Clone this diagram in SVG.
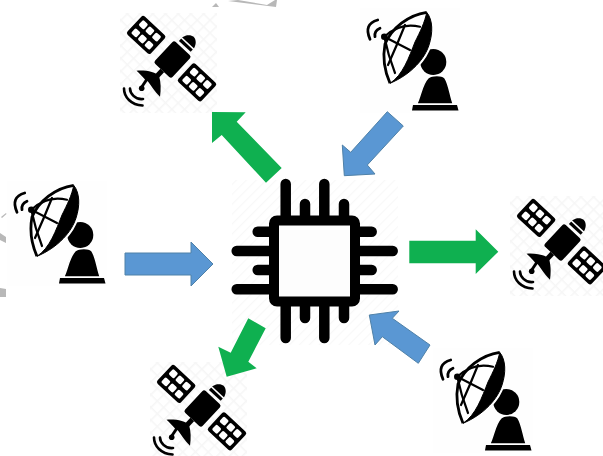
<svg xmlns="http://www.w3.org/2000/svg" width="603" height="456" viewBox="0 0 603 456">
<style>
.blue{fill:#5a97d3;stroke:#4f81a8;stroke-width:1}
.green{fill:#0fb050}
.wm{fill:#b8b8b8}
.pin{stroke:#000;stroke-width:10.500;stroke-linecap:round;fill:none}
.wave{fill:none;stroke:#000;stroke-linecap:round}
.rib{fill:none;stroke:#000;stroke-width:2.200;stroke-linecap:round}
</style>
<defs>
<pattern id="grid" width="9" height="9" patternUnits="userSpaceOnUse" patternTransform="rotate(45)">
<path d="M0 0H9M0 0V9" stroke="#f6f6f6" stroke-width="3" fill="none"/>
</pattern>
<pattern id="hatch" width="7" height="7" patternUnits="userSpaceOnUse" patternTransform="rotate(-45)">
<path d="M0 0H7" stroke="#f8f8f8" stroke-width="2.500" fill="none"/>
</pattern>
<g id="panel">
<rect x="-12.500" y="-16" width="25" height="32" rx="2.500" fill="#000"/>
<g fill="#fff">
<rect x="-9" y="-12.500" width="7" height="7" rx="1.500"/><rect x="2" y="-12.500" width="7" height="7" rx="1.500"/>
<rect x="-9" y="-3.500" width="7" height="7" rx="1.500"/><rect x="2" y="-3.500" width="7" height="7" rx="1.500"/>
<rect x="-9" y="5.500" width="7" height="7" rx="1.500"/><rect x="2" y="5.500" width="7" height="7" rx="1.500"/>
</g>
</g>
<g id="sat">
<rect x="120" y="13" width="97" height="100" fill="url(#grid)"/>
<g transform="translate(172.500 59.500) rotate(-47)">
<rect x="-15" y="-12" width="30" height="24" rx="2.500" fill="#000"/>
<path d="M18-8H23C28-7 31-3 31 0S28 7 23 8H18Z" fill="#000"/>
<path d="M22-9V9" stroke="#fff" stroke-width="1.600"/>
<use href="#panel" y="-36"/>
<use href="#panel" y="33.500"/>
<path d="M-15 0H-26" stroke="#000" stroke-width="5"/>
</g>
<path d="M136.500 70.700C146 70 156 72 159 76C161 82 161 90 160 96.700C155 92 150 84 147.500 81L142 89 140 87 145 79.500C142 76 139 73 136.500 70.700Z" fill="#000"/>
<circle cx="141.700" cy="88.300" r="2.800" fill="#000"/>
<path class="wave" stroke-width="2.600" d="M124 88.500C124 97 131 105 142.500 105.500"/>
<path class="wave" stroke-width="2.600" d="M130 88.500C130 93 135 100 143 99"/>
</g>
<g id="dish">
<rect x="360" y="8" width="100" height="105" fill="#fefefe"/>
<circle cx="433.300" cy="62" r="13" fill="#000"/>
<path d="M416.700 104C421 95 422 84 428 78C432 74.500 442 74.500 445 78C449 84 450 95 453.300 104Z" fill="#000" stroke="#fff" stroke-width="1.500"/>
<path d="M413 105H457L458.500 110.500H412Z" fill="#000"/>
<path d="M426.700 12.300C433 20 433 33 429 45C425 58 412 74 390 83.300C385 72 382 60 385 44C392 28 408 15 426.700 12.300Z" fill="#fff" stroke="#fff" stroke-width="5"/>
<path d="M426.700 12.300C408 15 392 28 385 44C382 60 385 72 390 83.300" fill="none" stroke="#000" stroke-width="2.800"/>
<path d="M426.700 12.300C433 20 433 33 429 45C425 58 412 74 390 83.300C403 75 409 57 415 42C420 32 425 22 426.700 12.300Z" fill="#000" stroke="#000" stroke-width="1"/>
<path class="rib" d="M384.300 36.700Q400 22 420 26.700"/>
<path class="rib" d="M384.300 36.700Q388 55 395 73"/>
<path class="rib" d="M384.300 36.700L410 50"/>
<path class="rib" d="M405 25Q397 45 388 65"/>
<circle cx="384.300" cy="36.700" r="3.300" fill="#000"/>
<path class="wave" stroke-width="2.800" d="M380 28.300Q374 31 375 36.700"/>
<path class="wave" stroke-width="2.800" d="M377.700 20Q363.300 24 370 39.300"/>
</g>
</defs>

<g id="watermark">
<path class="wm" d="M212 7L216 3 219 7Z"/>
<path class="wm" d="M228 1L238 0 267 5 275 0H277L276 7Z"/>
<path class="wm" d="M1 217L6 213 6.500 214 2 218Z"/>
<path class="wm" d="M0 233L6 237V243L0 240Z"/>
<path class="wm" d="M0 288L6 289V297H0Z"/>
</g>

<g id="satellite-top"><use href="#sat"/></g>
<g id="satellite-right"><use href="#sat" x="390" y="183"/></g>
<g id="satellite-bottom"><use href="#sat" x="30" y="349"/></g>
<g id="dish-top"><use href="#dish"/></g>
<g id="dish-left"><use href="#dish" x="-353" y="173"/></g>
<g id="dish-bottom"><use href="#dish" x="73" y="340"/></g>

<g id="chip">
<rect x="232" y="180" width="166" height="165" fill="url(#hatch)"/>
<path class="pin" d="M285.700 184V220M324.300 184V220M305 204V220M344 204V220M285.700 338V301M324.300 338V301M305 318V301M344 318V301"/>
<path class="pin" d="M236.700 251H274M236.700 289.300H274M257.700 231.700H274M257.700 270H274M392.700 251H355M392.700 289.300H355M371.700 231.700H355M371.700 270H355"/>
<rect x="274" y="220.500" width="81" height="81" rx="3" fill="#fdfdfd" stroke="#000" stroke-width="10"/>
</g>

<g id="connectors">
<path class="blue" d="M125 253H191V242L213 264 191 286V275H125Z"/>
<path class="green" d="M212 112L245.700 112.300 236.700 121.700 281.700 168 266 182.700 221.700 135 212 143Z"/>
<path class="blue" d="M387.300 111.700L403.300 126 367.300 165 375 174 344.300 175.700 342.300 145 350.700 152.300Z"/>
<path class="green" d="M409.300 240.700H475.700V229.300L498.300 251.700 475.700 274V263.300H409.300Z"/>
<path class="green" d="M248.300 318.300L265.700 328.300 248.300 361.700 256.700 368.300 226.700 376.700 218.300 346.700 230.700 352.700Z"/>
<path class="blue" d="M369.300 315L399 311 392.300 318.300 430 345 418.300 363.300 382.300 336.700 375 345Z"/>
</g>
</svg>
